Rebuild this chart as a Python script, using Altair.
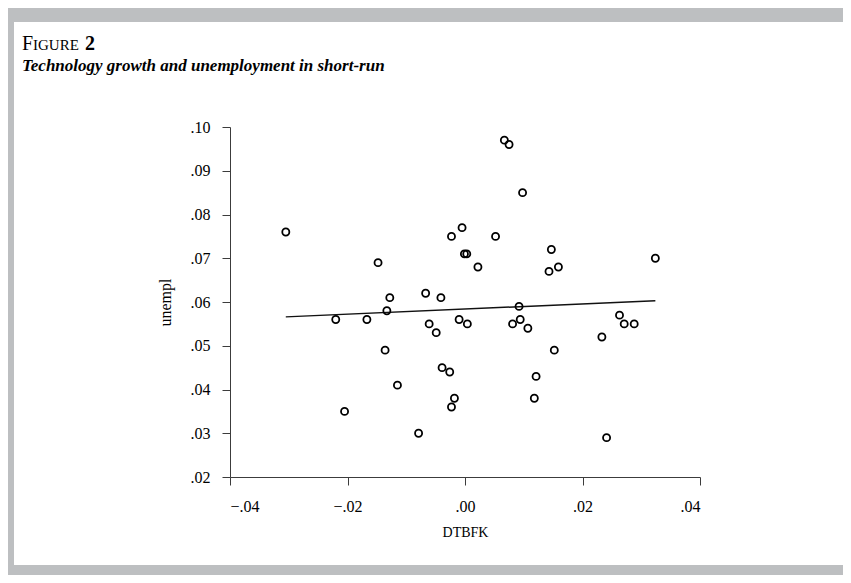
import altair as alt
import pandas as pd

# ---- data ----
dtbfk = [-0.0305, -0.0148, -0.0128, -0.0133, -0.0220, -0.0167, -0.0067, -0.0041,
         -0.0061, -0.0023, -0.0005, -0.0001, 0.0003, 0.0022, -0.0010, 0.0004,
         0.0052, 0.0067, 0.0075, 0.0098, 0.0147, 0.0143, 0.0159, 0.0324,
         0.0092, 0.0081, 0.0094, 0.0107, 0.0263, 0.0271, 0.0288, -0.0049,
         -0.0136, -0.0039, -0.0026, -0.0115, -0.0018, -0.0023, -0.0205, -0.0079,
         0.0233, 0.0152, 0.0121, 0.0118, 0.0241]
unempl = [0.076, 0.069, 0.061, 0.058, 0.056, 0.056, 0.062, 0.061,
          0.055, 0.075, 0.077, 0.071, 0.071, 0.068, 0.056, 0.055,
          0.075, 0.097, 0.096, 0.085, 0.072, 0.067, 0.068, 0.070,
          0.059, 0.055, 0.056, 0.054, 0.057, 0.055, 0.055, 0.053,
          0.049, 0.045, 0.044, 0.041, 0.038, 0.036, 0.035, 0.030,
          0.052, 0.049, 0.043, 0.038, 0.029]
fit_x = [-0.0305, 0.0324]
fit_y = [0.0566, 0.0603]
x_ticks = [-0.04, -0.02, 0.0, 0.02, 0.04]
y_ticks = [0.02, 0.03, 0.04, 0.05, 0.06, 0.07, 0.08, 0.09, 0.10]
fig_label = ["F", "IGURE", "2"]
fig_title = "Technology growth and unemployment in short-run"
x_title = "DTBFK"
y_title = "unempl"

W, H = 470, 350
PAD_L, PAD_T = 222, 119
TOTAL_W, TOTAL_H = 835, 567
SERIF = "Liberation Serif"

pts = pd.DataFrame({"x": dtbfk, "y": unempl})
fit = pd.DataFrame({"x": fit_x, "y": fit_y})
one = pd.DataFrame({"k": [0]})

label_expr = "replace(replace(format(datum.value, '.2f'), '0.', '.'), '-', '\u2013')"

xs = alt.Scale(domain=[-0.04, 0.04], nice=False, zero=False)
ys = alt.Scale(domain=[0.02, 0.10], nice=False, zero=False)

x_axis = alt.Axis(values=x_ticks, labelExpr=label_expr, title=x_title, grid=False,
                  tickSize=8, labelPadding=13, titlePadding=11, titleFontSize=14,
                  titleFontWeight="normal", titleFont=SERIF, zindex=2)
y_axis = alt.Axis(values=y_ticks, labelExpr=label_expr, title=y_title, grid=False,
                  tickSize=8, labelPadding=12, titlePadding=17, titleFontSize=16,
                  titleFontWeight="normal", titleFont=SERIF, zindex=2)

panel = alt.Chart(one).mark_rect(color="white").encode(
    x=alt.value(-216), x2=alt.value(TOTAL_W - PAD_L), y=alt.value(-105), y2=alt.value(438)
)

t_f = alt.Chart(one).mark_text(text=fig_label[0], font=SERIF, fontSize=20, align="left",
                               baseline="alphabetic", color="black").encode(
    x=alt.value(-208), y=alt.value(-77))
t_igure = alt.Chart(one).mark_text(text=fig_label[1], font=SERIF, fontSize=15, align="left",
                                   baseline="alphabetic", color="black").encode(
    x=alt.value(-197), y=alt.value(-77))
t_2 = alt.Chart(one).mark_text(text=fig_label[2], font=SERIF, fontSize=20, fontWeight="bold",
                               align="left", baseline="alphabetic", color="black").encode(
    x=alt.value(-145), y=alt.value(-77))
t_title = alt.Chart(one).mark_text(text=fig_title, font=SERIF, fontSize=17, fontWeight="bold",
                                   fontStyle="italic", align="left", baseline="alphabetic",
                                   color="black").encode(
    x=alt.value(-208), y=alt.value(-56))

points = alt.Chart(pts).mark_point(shape="circle", filled=False, color="black",
                                   strokeWidth=1.8, size=50, opacity=1).encode(
    x=alt.X("x:Q", scale=xs, axis=x_axis),
    y=alt.Y("y:Q", scale=ys, axis=y_axis),
)
line = alt.Chart(fit).mark_line(color="#111111", strokeWidth=1.5).encode(
    x=alt.X("x:Q", scale=xs),
    y=alt.Y("y:Q", scale=ys),
)

chart = alt.layer(panel, t_f, t_igure, t_2, t_title, line, points).properties(
    width=W, height=H,
    autosize=alt.AutoSizeParams(type="none"),
    padding={"left": PAD_L, "top": PAD_T, "right": TOTAL_W - PAD_L - W,
             "bottom": TOTAL_H - PAD_T - H},
    background="#bdbfc1",
).configure_view(stroke=None).configure_axis(
    labelFont=SERIF, labelFontSize=16, labelColor="black",
    titleColor="black", domainColor="#3c3c3c", tickColor="#3c3c3c",
    domainWidth=1, tickWidth=1,
)

chart.save("out.html", embed_options={"renderer": "svg", "actions": False})
